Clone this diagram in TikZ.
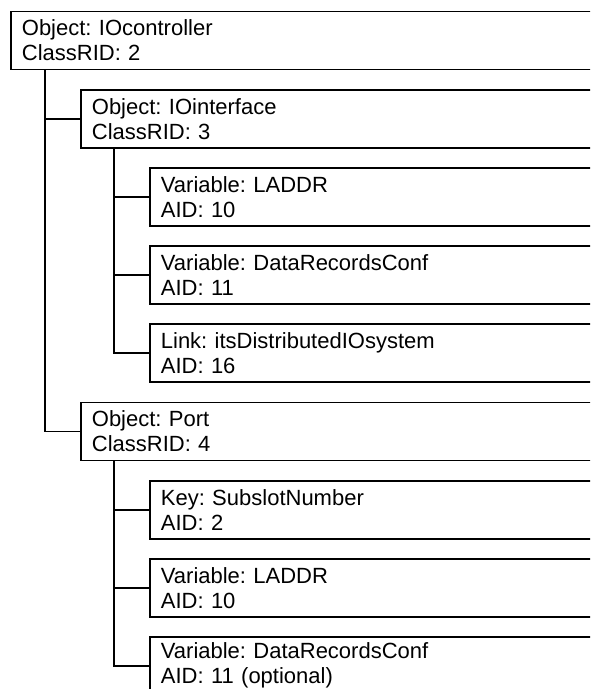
\documentclass[tikz,border=0pt]{standalone}
\usepackage{fontspec}
\setmainfont{Liberation Sans}
\frenchspacing

\begin{document}
\begin{tikzpicture}[x=1pt,y=1pt,
    box/.style={rectangle,draw,line width=1.8pt,anchor=north west,align=left,text width=#1,inner xsep=11pt,inner ysep=0pt,text height=24.5pt,text depth=33.5pt,font=\fontsize{22}{25}\selectfont},
    conn/.style={line width=1.8pt},
]
\path[use as bounding box] (0,0) rectangle (590,-689);
\clip (0,0) rectangle (590,-689);

\node[box=588pt] (ctrl) at (10,-10.5) {Object: IOcontroller\\ClassRID: 2};

\node[box=518pt] (ifc) at (80,-88.7) {Object: IOinterface\\ClassRID: 3};
\node[box=449pt] (laddrA) at (149,-166.9) {Variable: LADDR\\AID: 10};
\node[box=449pt] (drcA) at (149,-245.1) {Variable: DataRecordsConf\\AID: 11};
\node[box=449pt] (link) at (149,-323.3) {Link: itsDistributedIOsystem\\AID: 16};

\node[box=518pt] (port) at (80,-401.5) {Object: Port\\ClassRID: 4};
\node[box=449pt] (key) at (149,-479.7) {Key: SubslotNumber\\AID: 2};
\node[box=449pt] (laddrB) at (149,-557.9) {Variable: LADDR\\AID: 10};
\node[box=449pt,text height=21pt,text depth=37pt] (drcB) at (149,-636.1) {Variable: DataRecordsConf\\AID: 11 (optional)};

\draw[conn] ([xshift=35pt]ctrl.south west) |- (ifc.west);
\draw[conn] ([xshift=35pt]ctrl.south west) |- (port.west);

\draw[conn] ([xshift=34pt]ifc.south west) |- (laddrA.west);
\draw[conn] ([xshift=34pt]ifc.south west) |- (drcA.west);
\draw[conn] ([xshift=34pt]ifc.south west) |- (link.west);

\draw[conn] ([xshift=34pt]port.south west) |- (key.west);
\draw[conn] ([xshift=34pt]port.south west) |- (laddrB.west);
\draw[conn] ([xshift=34pt]port.south west) |- (drcB.west);
\end{tikzpicture}
\end{document}
